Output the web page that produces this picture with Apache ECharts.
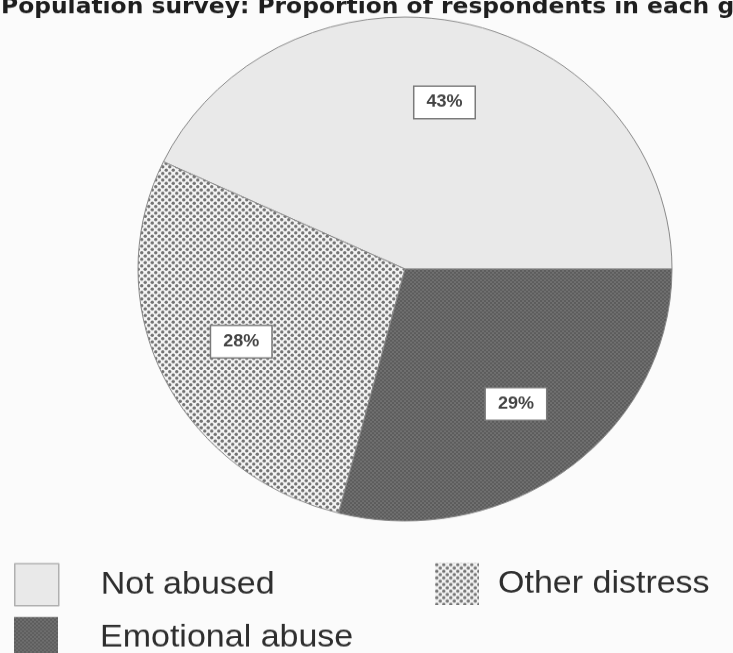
<!DOCTYPE html>
<html>
<head>
<meta charset="utf-8">
<script src="https://cdn.jsdelivr.net/npm/echarts@6/dist/echarts.min.js"></script>
<style>
html,body{margin:0;padding:0;background:#fbfbfb;overflow:hidden;width:733px;height:653px;}
/* the scanned original is slightly squashed vertically: reproduce it */
#chart{width:733px;height:692px;transform:scale(1,0.9438);transform-origin:0 0;}
</style>
</head>
<body>
<div id="chart"></div>
<script>
// ---- data ----
const titleText = 'Population survey: Proportion of respondents in each group';
const categories = ['Not abused', 'Other distress', 'Emotional abuse'];
const values = [43, 28, 29];

// ---- patterns (style only) ----
function makePattern(size, bg, dots, r, dotColor) {
  const c = document.createElement('canvas');
  c.width = size; c.height = size;
  const g = c.getContext('2d');
  g.fillStyle = bg; g.fillRect(0, 0, size, size);
  g.fillStyle = dotColor;
  dots.forEach(function (p) {
    g.beginPath(); g.arc(p[0], p[1], r, 0, Math.PI * 2); g.fill();
  });
  return c;
}
const dotPat = makePattern(7, '#f4f4f4', [[1.75, 1.75], [5.25, 5.25]], 1.7, '#727272');
const darkPat = makePattern(4, '#5c5c5c', [[1, 1], [3, 3]], 0.75, '#8e8e8e');
const fills = [
  '#e9e9e9',
  { image: dotPat, repeat: 'repeat' },
  { image: darkPat, repeat: 'repeat' }
];

const pieData = categories.map(function (n, i) {
  return { name: n, value: values[i], itemStyle: { color: fills[i] } };
});
const labelData = categories.map(function (n, i) {
  return { name: n, value: values[i] };
});

const S = 0.9438; // vertical squash applied by CSS
const legendText = { fontFamily: 'Liberation Sans, Arial', fontSize: 34, color: '#2e2e2e' };
function legendAt(name, x, y, textGap, border) {
  return {
    data: [name],
    left: x, top: y / S,
    padding: 0,
    icon: 'rect', itemWidth: 44, itemHeight: 42 / S,
    itemStyle: border ? { borderColor: '#b0b0b0', borderWidth: 1.5 } : { borderWidth: 0 },
    textStyle: Object.assign({ padding: [0, 0, 0, textGap] }, legendText),
    selectedMode: false
  };
}

const chart = echarts.init(document.getElementById('chart'), null, { renderer: 'canvas' });
chart.setOption({
  backgroundColor: '#fbfbfb',
  animation: false,
  title: {
    text: titleText,
    left: 1, top: -4,
    padding: 0,
    textStyle: { fontFamily: 'DejaVu Sans', fontWeight: 'bold', fontSize: 23.4, color: '#1e1e1e' }
  },
  legend: [
    legendAt(categories[0], 14, 563, 37, true),
    legendAt(categories[1], 435, 563, 14, false),
    legendAt(categories[2], 14, 617, 37, false)
  ],
  series: [
    {
      type: 'pie',
      center: [405, 269 / S],
      radius: [0, 267],
      startAngle: 0,
      clockwise: false,
      silent: true,
      label: { show: false },
      labelLine: { show: false },
      itemStyle: { borderColor: '#8a8a8a', borderWidth: 1 },
      data: pieData
    },
    {
      type: 'pie',
      center: [405, 269 / S],
      radius: [0, 356],
      startAngle: 0,
      clockwise: false,
      silent: true,
      legendHoverLink: false,
      itemStyle: { color: 'rgba(0,0,0,0)', borderWidth: 0 },
      label: {
        show: true, position: 'inside',
        formatter: '{c}%',
        fontFamily: 'Liberation Sans, Arial', fontWeight: 'bold', fontSize: 18, color: '#444',
        backgroundColor: '#fff', borderColor: '#7a7a7a', borderWidth: 1.5,
        padding: [8, 12, 7, 12]
      },
      labelLine: { show: false },
      data: labelData
    }
  ]
});
</script>
</body>
</html>
